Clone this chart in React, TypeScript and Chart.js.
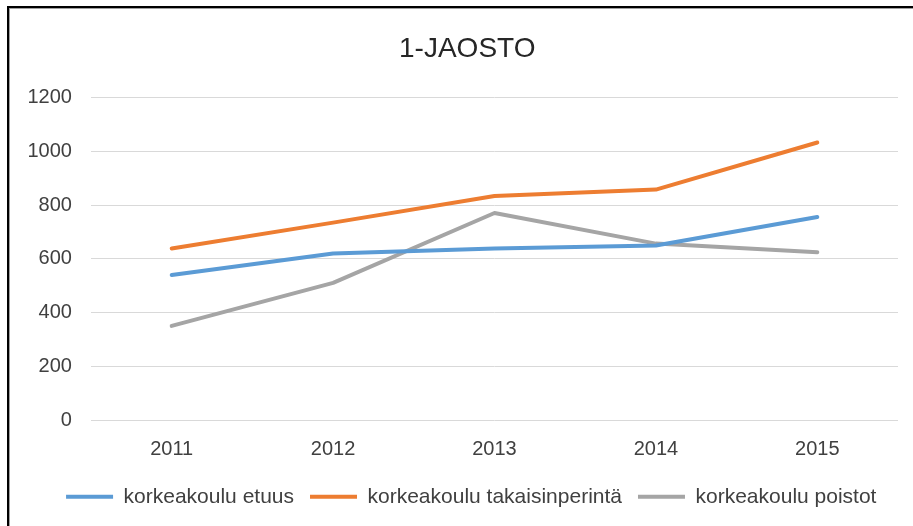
import React, { useEffect, useRef } from "react";
import { Chart, registerables } from "chart.js";

Chart.register(...registerables);

const categories = ["2011", "2012", "2013", "2014", "2015"];
const etuus = [540, 620, 639, 650, 756];
const takaisinperinta = [639, 735, 834, 858, 1033];
const poistot = [351, 511, 771, 657, 625];
const seriesNames = ["korkeakoulu etuus", "korkeakoulu takaisinperintä", "korkeakoulu poistot"];
const seriesColors = ["#5B9BD5", "#ED7D31", "#A5A5A5"];
const titleText = "1-JAOSTO";

const FONT = "'Liberation Sans', Arial, sans-serif";

const shiftBoxes = {
  id: "shiftBoxes",
  afterLayout(chart: any) {
    const t = chart.titleBlock;
    if (t) {
      t.left += 14;
      t.right += 14;
    }
    const l = chart.legend;
    if (l) {
      l.left += 18;
      l.right += 18;
      l.top -= 8;
      l.bottom -= 8;
    }
  },
};

export default function App() {
  const ref = useRef<HTMLCanvasElement>(null);

  useEffect(() => {
    if (!ref.current) return;
    const values = [etuus, takaisinperinta, poistot];
    const chart = new Chart(ref.current, {
      type: "line",
      data: {
        labels: categories,
        datasets: values.map((v, i) => ({
          label: seriesNames[i],
          data: v,
          borderColor: seriesColors[i],
          backgroundColor: seriesColors[i],
          borderWidth: 4,
          borderCapStyle: "round" as const,
          borderJoinStyle: "round" as const,
          pointRadius: 0,
          pointHoverRadius: 0,
          pointStyle: "line" as const,
          tension: 0,
          fill: false,
        })),
      },
      plugins: [shiftBoxes],
      options: {
        responsive: false,
        animation: false,
        layout: { padding: { left: 8.5, right: 15, top: 0, bottom: 0.7 } },
        plugins: {
          title: {
            display: true,
            text: titleText,
            color: "#262626",
            font: { family: FONT, size: 28, weight: "normal" as const },
            padding: { top: 32, bottom: 32 },
          },
          legend: {
            position: "bottom",
            labels: {
              usePointStyle: true,
              pointStyleWidth: 47,
              color: "#404040",
              padding: 16,
              font: { family: FONT, size: 21 },
            },
          },
          tooltip: { enabled: false },
        },
        scales: {
          x: {
            offset: true,
            grid: { display: false, drawTicks: false },
            border: { display: false },
            ticks: {
              color: "#404040",
              padding: 17,
              font: { family: FONT, size: 20 },
            },
          },
          y: {
            min: 0,
            max: 1200,
            grid: { color: "#D9D9D9", lineWidth: 1, drawTicks: false },
            border: { display: false },
            ticks: {
              stepSize: 200,
              color: "#404040",
              padding: 19,
              font: { family: FONT, size: 20 },
              callback: (value: any) => String(value),
            },
          },
        },
      },
    });
    return () => chart.destroy();
  }, []);

  return (
    <div style={{ position: "fixed", left: 0, top: 0, width: 913, height: 526, background: "#fff" }}>
      <canvas ref={ref} width={913} height={526} style={{ display: "block", width: 913, height: 526 }} />
      <div
        style={{
          position: "absolute",
          left: 7,
          top: 6,
          right: 0,
          bottom: 0,
          borderTop: "2px solid #000",
          borderLeft: "2px solid #000",
          boxShadow: "inset 1px 1px 0 #a0a0a0",
          pointerEvents: "none",
        }}
      />
    </div>
  );
}
